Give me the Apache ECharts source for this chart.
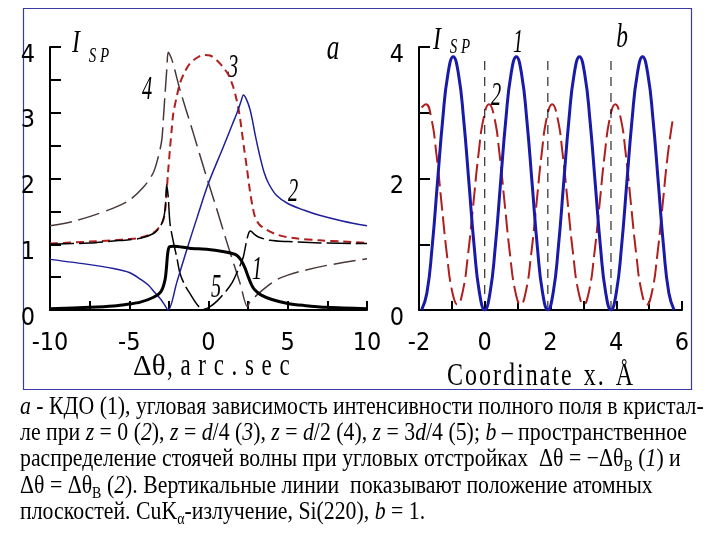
<!DOCTYPE html>
<html>
<head>
<meta charset="utf-8">
<script src="https://cdn.jsdelivr.net/npm/echarts@6/dist/echarts.min.js"></script>
<style>html,body{margin:0;padding:0;background:#fff}#c{width:720px;height:540px}</style>
</head>
<body>
<div id="c"></div>
<script>
// ---------- Panel a: angular dependence (x = Δθ, arc sec) ----------
const kdo1 = [[-10,0.02],[-7.5,0.04],[-6,0.06],[-5,0.09],[-4.3,0.12],[-3.5,0.19],[-3,0.28],[-2.75,0.45],[-2.65,0.65],[-2.58,0.85],[-2.47,0.96],[-2.2,0.97],[-1.2,0.94],[0,0.92],[0.9,0.89],[1.5,0.86],[1.8,0.83],[2.05,0.76],[2.3,0.64],[2.5,0.51],[2.7,0.39],[2.9,0.31],[3.3,0.23],[4,0.16],[5,0.1],[6,0.07],[7.5,0.04],[10,0.02]];
const z0curve2 = [[-10,0.77],[-7.5,0.69],[-6,0.63],[-5,0.57],[-4.3,0.47],[-3.8,0.38],[-3.4,0.27],[-3,0.16],[-2.8,0.09],[-2.54,0],[-2,0.42],[-1.38,0.91],[-0.7,1.42],[0,1.93],[0.9,2.46],[1.5,2.82],[1.8,3.0],[2.05,3.17],[2.2,3.27],[2.4,3.2],[2.62,3.05],[2.8,2.85],[2.95,2.66],[3.25,2.33],[3.5,2.1],[3.8,1.92],[4.3,1.74],[5,1.62],[6,1.52],[7,1.44],[8.5,1.35],[10,1.28]];
const zd4curve3 = [[-10,1.01],[-7.5,1.04],[-6,1.06],[-5,1.08],[-4.3,1.1],[-3.5,1.17],[-3.1,1.26],[-2.85,1.37],[-2.72,1.55],[-2.64,1.8],[-2.55,2.1],[-2.43,2.45],[-2.32,2.75],[-2.22,2.99],[-2,3.25],[-1.8,3.45],[-1.5,3.62],[-1.17,3.75],[-0.7,3.84],[-0.3,3.88],[0.1,3.87],[0.52,3.8],[0.9,3.7],[1.25,3.58],[1.55,3.4],[1.78,3.19],[1.95,2.98],[2.09,2.74],[2.25,2.45],[2.41,2.18],[2.62,1.8],[2.8,1.55],[2.93,1.42],[3.2,1.3],[3.67,1.22],[4.4,1.14],[5.5,1.09],[7,1.06],[8.5,1.04],[10,1.02]];
const zd2curve4 = [[-10,1.28],[-8.5,1.35],[-7.5,1.42],[-6,1.55],[-5,1.67],[-4.1,1.87],[-3.5,2.08],[-3.2,2.3],[-2.95,2.58],[-2.85,2.9],[-2.74,3.29],[-2.62,3.7],[-2.54,3.92],[-2.3,3.8],[-1.8,3.35],[-0.96,2.69],[-0.22,2.1],[0.5,1.55],[1.25,0.96],[2.0,0.4],[2.45,0.05],[2.6,0.12],[2.8,0.17],[3.2,0.26],[3.7,0.36],[4.3,0.46],[5,0.53],[6,0.6],[7.5,0.68],[10,0.78]];
const z3d4curve5 = [[-10,1.0],[-7.5,1.02],[-6,1.05],[-5,1.07],[-4.3,1.09],[-3.5,1.16],[-3.1,1.25],[-2.85,1.38],[-2.72,1.58],[-2.64,1.9],[-2.54,1.72],[-2.43,1.32],[-2.22,1.04],[-2,0.8],[-1.8,0.56],[-1.5,0.38],[-1.17,0.25],[-0.64,0.06],[-0.3,0.01],[0.1,0.05],[0.6,0.15],[1.15,0.3],[1.5,0.42],[1.78,0.56],[2.0,0.68],[2.2,0.81],[2.41,1.06],[2.55,1.18],[2.65,1.2],[2.9,1.15],[3.15,1.11],[3.88,1.06],[5,1.04],[7,1.02],[10,1.01]];
const aXTicks = [-10, -5, 0, 5, 10];
const aYTicks = [0, 1, 2, 3, 4];

// ---------- Panel b: standing wave (x = coordinate, Å) ----------
const wave1X = [-1.92,-1.76,-1.60,-1.44,-1.28,-1.12,-0.96,-0.80,-0.64,-0.48,-0.32,-0.16,0,0.16,0.32,0.48,0.64,0.80,0.96,1.12,1.28,1.44,1.60,1.76,1.92,2.08,2.24,2.40,2.56,2.72,2.88,3.04,3.20,3.36,3.52,3.68,3.84,4.00,4.16,4.32,4.48,4.64,4.80,4.96,5.12,5.28,5.44,5.60,5.76];
const wave1Y = [0,0.26,0.96,1.93,2.89,3.59,3.85,3.59,2.89,1.93,0.96,0.26,0,0.26,0.96,1.93,2.89,3.59,3.85,3.59,2.89,1.93,0.96,0.26,0,0.26,0.96,1.93,2.89,3.59,3.85,3.59,2.89,1.93,0.96,0.26,0,0.26,0.96,1.93,2.89,3.59,3.85,3.59,2.89,1.93,0.96,0.26,0];
const wave2X = [-1.92,-1.79,-1.63,-1.47,-1.31,-1.15,-0.99,-0.83,-0.67,-0.51,-0.35,-0.19,-0.03,0.13,0.29,0.45,0.61,0.77,0.93,1.09,1.25,1.41,1.57,1.73,1.89,2.05,2.21,2.37,2.53,2.69,2.85,3.01,3.17,3.33,3.49,3.65,3.81,3.97,4.13,4.29,4.45,4.61,4.77,4.93,5.09,5.25,5.41,5.57,5.73];
const wave2Y = [3.08,3.13,2.93,2.37,1.6,0.84,0.28,0.08,0.28,0.84,1.6,2.37,2.93,3.13,2.93,2.37,1.6,0.84,0.28,0.08,0.28,0.84,1.6,2.37,2.93,3.13,2.93,2.37,1.6,0.84,0.28,0.08,0.28,0.84,1.6,2.37,2.93,3.13,2.93,2.37,1.6,0.84,0.28,0.08,0.28,0.84,1.6,2.37,2.93];
const planeX = [0, 1.92, 3.84];
const planeTop = 3.8;
const bXTicks = [-2, 0, 2, 4, 6];
const bYTicks = [0, 2, 4];

const zip = (xs, ys) => xs.map((x, i) => [x, ys[i]]);

const tickFont = "Liberation Sans Narrow, DejaVu Sans Condensed, sans-serif";
const serif = "Liberation Serif, serif";

function axisX(grid, min, max, interval, shown) {
  return {
    type: 'value', gridIndex: grid, min, max, interval,
    axisLine: { onZero: false, lineStyle: { color: '#000', width: 2 } },
    axisTick: { inside: true, length: 9, lineStyle: { color: '#000', width: 2 } },
    splitLine: { show: false },
    axisLabel: { margin: 21, color: '#000', fontSize: 25, fontFamily: tickFont,
      formatter: v => (shown.includes(v) ? String(v) : '') }
  };
}
function axisY(grid, interval, shown) {
  return {
    type: 'value', gridIndex: grid, min: 0, max: 4, interval,
    axisLine: { show: true, onZero: false, lineStyle: { color: '#000', width: 2 } },
    axisTick: { show: true, inside: true, length: 11, lineStyle: { color: '#000', width: 2 } },
    splitLine: { show: false },
    axisLabel: { margin: 15, color: '#000', fontSize: 25, fontFamily: tickFont,
      verticalAlign: 'top', lineHeight: 16,
      formatter: v => (shown.includes(v) ? String(v) : '') }
  };
}
function line(xi, yi, data, color, width, dash, smooth) {
  return { type: 'line', xAxisIndex: xi, yAxisIndex: yi, data, showSymbol: false, symbol: 'none',
    smooth: smooth, animation: false, silent: true,
    lineStyle: { color, width, type: dash || 'solid', cap: 'butt', join: 'round' } };
}
function txt(x, y, s, size, italic, sx, sy, align) {
  return { type: 'text', x, y, scaleX: sx || 1, scaleY: sy || 1, silent: true,
    style: { text: s, x: 0, y: 0, fontSize: size, fontFamily: serif, fontStyle: italic ? 'italic' : 'normal',
      align: align || 'center', verticalAlign: 'middle', fill: '#000' } };
}
const capSize = 21.8;
const capRich = {
  n: { fontSize: capSize, fontFamily: serif, lineHeight: 26, color: '#000' },
  i: { fontStyle: 'italic', fontSize: capSize, fontFamily: serif, lineHeight: 26, color: '#000' },
  s: { fontSize: 14, fontFamily: serif, verticalAlign: 'bottom', lineHeight: 13, color: '#000' }
};
function cap(y, s) {
  return { type: 'text', x: 20, y, scaleY: 1.13, silent: true,
    style: { text: s, x: 0, y: 0, fontSize: capSize, fontFamily: serif, lineHeight: 26,
      align: 'left', verticalAlign: 'middle', fill: '#000', rich: capRich } };
}

const series = [
  line(0, 0, zd2curve4, '#4a3838', 1.5, [22, 7], 0.3),
  line(0, 0, zd4curve3, '#b01e1e', 2, [8, 5], 0.3),
  line(0, 0, z3d4curve5, '#000', 1.5, [24, 5], 0.3),
  line(0, 0, z0curve2, '#1f1f9a', 1.5, 'solid', 0.3),
  line(0, 0, kdo1, '#000', 3, 'solid', 0.3),
  line(1, 1, zip(wave2X, wave2Y), '#b01e1e', 2, [18, 6], 0.5)
];
planeX.forEach(p => series.push(line(1, 1, [[p, 0], [p, planeTop]], '#000', 1, [9, 7], false)));
series.push(line(1, 1, zip(wave1X, wave1Y), '#1a1aa8', 3, 'solid', 0.5));

const graphic = [
  { type: 'rect', shape: { x: 23.5, y: 8.5, width: 668, height: 381 }, silent: true,
    style: { fill: 'none', stroke: '#3a3aa6', lineWidth: 1.2 } },
  // panel a annotations
  txt(76, 44, 'I', 24, true, 1, 1.3),
  txt(99, 57, 'S P', 15, true, 1, 1.35),
  txt(333, 49, 'a', 28, true, 0.9, 1.3),
  txt(147, 90, '4', 24, true, 0.85, 1.4),
  txt(233, 68, '3', 24, true, 0.85, 1.4),
  txt(293, 192, '2', 24, true, 0.85, 1.4),
  txt(257, 270, '1', 24, true, 0.85, 1.4),
  txt(216, 288, '5', 24, true, 0.85, 1.4),
  // panel b annotations
  txt(437, 41, 'I', 24, true, 1, 1.3),
  txt(460, 48, 'S P', 15, true, 1, 1.35),
  txt(518, 43, '1', 24, true, 0.85, 1.4),
  txt(496, 96, '2', 24, true, 0.85, 1.4),
  txt(622, 38, 'b', 26, true, 0.9, 1.3),
  // axis titles
  txt(133, 367, 'Δθ', 29, false, 1, 1.05, 'left'),
  txt(167, 367, ',\u2004a\u2004r\u2004c\u2004.\u2004s\u2004e\u2004c', 23, false, 1, 1.35, 'left'),
  txt(447, 376, 'C\u200Ao\u200Ao\u200Ar\u200Ad\u200Ai\u200An\u200Aa\u200At\u200Ae\u2002x\u200A.\u2002Å', 24, false, 1, 1.35, 'left'),
  // caption
  cap(408, '{i|a}{n| - КДО (1), угловая зависимость интенсивности полного поля в кристал-}'),
  cap(434, '{n|ле при }{i|z}{n| = 0 (}{i|2}{n|), }{i|z}{n| = }{i|d}{n|/4 (}{i|3}{n|), }{i|z}{n| = }{i|d}{n|/2 (4), }{i|z}{n| = 3}{i|d}{n|/4 (5); }{i|b}{n| – пространственное}'),
  cap(460, '{n|распределение стоячей волны при угловых отстройках  Δθ = −Δθ}{s|B}{n| (}{i|1}{n|) и}'),
  cap(487, '{n|Δθ = Δθ}{s|B}{n| (}{i|2}{n|). Вертикальные линии  показывают положение атомных}'),
  cap(513, '{n|плоскостей. CuK}{s|α}{n|-излучение, Si(220), }{i|b}{n| = 1.}')
];

const chart = echarts.init(document.getElementById('c'), null, { renderer: 'canvas' });
chart.setOption({
  backgroundColor: '#fff',
  animation: false,
  grid: [
    { left: 50, top: 47, width: 317, height: 263 },
    { left: 419, top: 47, width: 263, height: 263 }
  ],
  xAxis: [axisX(0, -10, 10, 2.5, aXTicks), axisX(1, -2, 6, 1, bXTicks)],
  yAxis: [axisY(0, 0.5, aYTicks), axisY(1, 1, bYTicks)],
  series,
  graphic
});
</script>
</body>
</html>
